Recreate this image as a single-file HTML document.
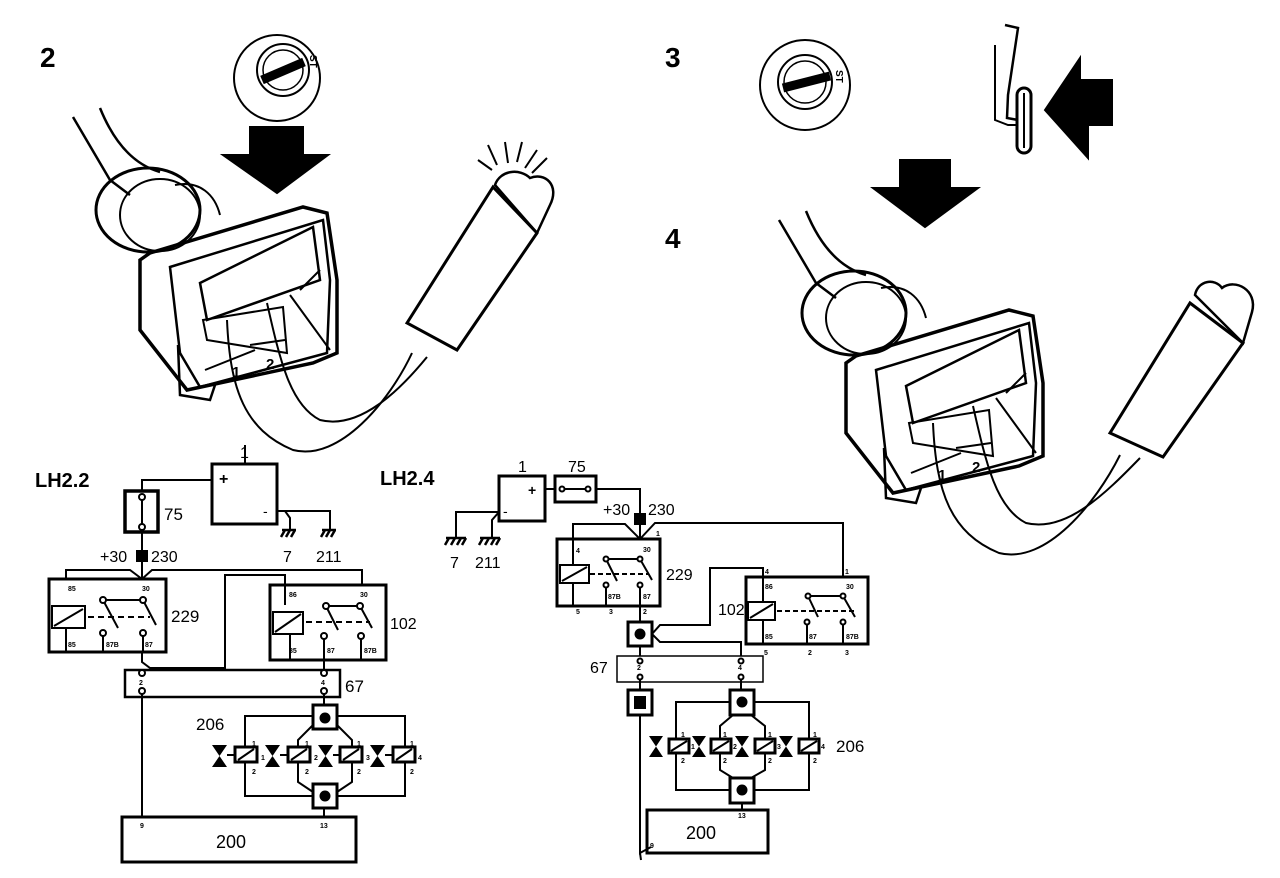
<!DOCTYPE html>
<html><head><style>
html,body{margin:0;padding:0;background:#fff}
svg{display:block}
text{font-family:"Liberation Sans",Arial,sans-serif;fill:#000}
.b{font-weight:bold}
</style></head><body>
<svg width="1280" height="878" viewBox="0 0 1280 878" xmlns="http://www.w3.org/2000/svg">
<defs>
<g id="conn" fill="none" stroke="#000">
<path d="M73 117 L110 180 L130 195" stroke-width="2.5"/>
<path d="M100 108 C115 145 135 165 160 172" stroke-width="2.5"/>
<ellipse cx="148" cy="210" rx="52" ry="42" stroke-width="3"/>
<ellipse cx="160" cy="215" rx="40" ry="36" stroke-width="2"/>
<path d="M175 185 C200 180 215 195 220 215" stroke-width="2"/>
<path d="M140 260 L150 253 L303 207 L327 213 L337 280 L337 353 L313 363 L187 390 L140 330 Z" stroke-width="3.5"/>
<path d="M170 267 L323 220 L330 280 L327 353 L200 387 L180 353 Z" stroke-width="2.5"/>
<path d="M200 283 L313 227 L320 280 L207 320 Z" stroke-width="2.5"/>
<path d="M203 320 L283 307 L287 353 L207 340 Z" stroke-width="2"/>
<path d="M290 295 L330 350 M300 290 L320 270" stroke-width="2"/>
<path d="M178 345 L180 395 L210 400 L215 385" stroke-width="2.5"/>
<path d="M205 370 L255 350 M250 345 L285 340" stroke-width="2"/>
<text x="232" y="377" class="b" font-size="15" stroke="none">1</text>
<text x="266" y="369" class="b" font-size="15" stroke="none">2</text>
</g>
</defs>

<use href="#conn"/>
<use href="#conn" transform="translate(706,103)"/>

<g fill="none" stroke="#000" stroke-width="2">
<!-- key 2 -->
<circle cx="277" cy="78" r="43"/>
<circle cx="283" cy="70" r="26"/>
<circle cx="283" cy="70" r="20" stroke-width="1.5"/>
<path d="M262 80 L304 62" stroke-width="9"/>
<text x="310" y="55" font-size="10" class="b" stroke="none" transform="rotate(90 310 55)">ST</text>
<!-- arrow down -->
<path d="M250 127 L303 127 L303 155 L328 155 L277 193 L223 155 L250 155 Z" fill="#000"/>
<!-- wires to probe (left) -->
<path d="M227 320 C230 390 245 430 293 450 C340 462 390 400 412 353" stroke-width="2"/>
<path d="M267 303 C280 360 290 405 320 420 C360 430 400 390 427 357" stroke-width="2"/>
<!-- probe left -->
<path d="M407 323 L493 187 L537 233 L457 350 Z" stroke-width="3"/>
<path d="M495 185 C500 170 520 168 530 178 C545 172 560 185 550 205 L537 233 Z" stroke-width="2.5"/>
<path d="M478 160 L492 170 M488 145 L497 165 M505 142 L508 163 M522 142 L517 162 M537 150 L525 168 M547 158 L532 173"/>

<!-- key 3 -->
<circle cx="805" cy="85" r="45"/>
<circle cx="805" cy="82" r="27"/>
<circle cx="805" cy="82" r="21" stroke-width="1.5"/>
<path d="M783 88 L830 76" stroke-width="9"/>
<text x="836" y="70" font-size="10" class="b" stroke="none" transform="rotate(90 836 70)">ST</text>
<!-- clip & pill -->
<path d="M1005 25 L1018 28 L1008 95 L1007 118 L1018 120" stroke-width="2.5"/>
<path d="M995 45 L995 120 L1008 125 L1018 125"/>
<rect x="1017" y="88" width="14" height="65" rx="7" stroke-width="3"/>
<path d="M1024 93 L1024 148"/>
<!-- left arrow -->
<path d="M1045 110 L1080 58 L1080 80 L1112 80 L1112 125 L1088 125 L1088 158 Z" fill="#000"/>
<!-- down arrow 4 -->
<path d="M900 160 L950 160 L950 188 L978 188 L925 227 L873 188 L900 188 Z" fill="#000"/>
<!-- wires to probe (right) -->
<path d="M933 423 C936 493 951 533 999 553 C1046 565 1096 503 1120 455" stroke-width="2"/>
<path d="M973 406 C986 463 996 508 1026 523 C1066 533 1106 493 1140 458" stroke-width="2"/>
<!-- probe right -->
<path d="M1110 433 L1190 303 L1243 343 L1163 457 Z" stroke-width="3"/>
<path d="M1195 295 C1198 280 1215 278 1222 288 C1235 278 1258 290 1252 312 L1243 343 Z" stroke-width="2.5"/>

<!-- ===== LH2.2 schematic ===== -->
<rect x="212" y="464" width="65" height="60" stroke-width="3"/>
<path d="M245 464 L245 445"/>
<path d="M142 491 L142 480 L212 480"/>
<rect x="125" y="491" width="33" height="41" stroke-width="3.5"/>
<path d="M142 497 L142 527"/>
<circle cx="142" cy="497" r="3" fill="#fff"/><circle cx="142" cy="527" r="3" fill="#fff"/>
<path d="M142 532 L142 580"/>
<rect x="137" y="551" width="10" height="10" fill="#000"/>
<path d="M277 511 L285 511 L290 518 L290 530 M285 511 L330 511 L330 530"/>
<path d="M282 530 L296 530 M285 530 L281 537 M290 530 L286 537 M295 530 L291 537" stroke-width="2.5"/>
<path d="M322 530 L336 530 M325 530 L321 537 M330 530 L326 537 M335 530 L331 537" stroke-width="2.5"/>
<rect x="49" y="579" width="117" height="73" stroke-width="3"/>
<rect x="270" y="585" width="116" height="75" stroke-width="3"/>
<path d="M66 579 L66 570 L130 570 L142 579 L152 570 L362 570 L362 585"/>
<path d="M142 652 L142 662 L150 668 L225 668 L225 575 L285 575 L285 605"/>
<rect x="52" y="606" width="33" height="22"/><path d="M54 626 L83 609"/>
<rect x="273" y="612" width="30" height="22"/><path d="M275 632 L301 614"/>
<path d="M88 617 L150 617 M306 622 L370 622" stroke-dasharray="6 4"/>
<path d="M103 600 L143 600 M326 606 L360 606"/>
<path d="M103 600 L118 628 M143 600 L156 625 M326 606 L338 630 M360 606 L372 628"/>
<circle cx="103" cy="600" r="3" fill="#fff"/><circle cx="143" cy="600" r="3" fill="#fff"/><circle cx="103" cy="633" r="3" fill="#fff"/><circle cx="143" cy="633" r="3" fill="#fff"/>
<circle cx="326" cy="606" r="3" fill="#fff"/><circle cx="360" cy="606" r="3" fill="#fff"/><circle cx="324" cy="636" r="3" fill="#fff"/><circle cx="361" cy="636" r="3" fill="#fff"/>
<path d="M66 628 L66 652 M103 636 L103 652 M143 636 L143 652 M290 634 L290 660 M324 639 L324 660 M361 639 L361 660"/>
<rect x="125" y="670" width="215" height="27" stroke-width="2.5"/>
<path d="M324 660 L324 670"/>
<circle cx="142" cy="673" r="3" fill="#fff"/><circle cx="142" cy="691" r="3" fill="#fff"/><circle cx="324" cy="673" r="3" fill="#fff"/><circle cx="324" cy="691" r="3" fill="#fff"/>
<path d="M142 694 L142 817 M324 694 L324 705"/>
<rect x="245" y="716" width="160" height="80"/>
<path d="M313 725 L298 740 L298 782 L313 792 M337 725 L352 740 L352 782 L337 792"/>
<rect x="313" y="705" width="24" height="24" stroke-width="3" fill="#fff"/>
<rect x="313" y="784" width="24" height="24" stroke-width="3" fill="#fff"/>
<circle cx="325" cy="718" r="4.5" fill="#000"/><circle cx="325" cy="796" r="4.5" fill="#000"/>
<path d="M324 808 L324 817"/>
<rect x="122" y="817" width="234" height="45" stroke-width="3"/>
<rect x="235" y="747" width="22" height="15" stroke-width="3" fill="#fff"/><path d="M238 760 L254 749"/>
<rect x="288" y="747" width="22" height="15" stroke-width="3" fill="#fff"/><path d="M291 760 L307 749"/>
<rect x="340" y="747" width="22" height="15" stroke-width="3" fill="#fff"/><path d="M343 760 L359 749"/>
<rect x="393" y="747" width="22" height="15" stroke-width="3" fill="#fff"/><path d="M396 760 L412 749"/>
<path d="M227 755 L235 755 M280 755 L288 755 M333 755 L340 755 M385 755 L393 755"/>
</g>
<g fill="#000">
<path d="M212 745 L227 745 L212 767 L227 767 Z"/>
<path d="M265 745 L280 745 L265 767 L280 767 Z"/>
<path d="M318 745 L333 745 L318 767 L333 767 Z"/>
<path d="M370 745 L385 745 L370 767 L385 767 Z"/>
</g>
<g stroke="none">
<text x="40" y="67" class="b" font-size="28">2</text>
<text x="665" y="67" class="b" font-size="28">3</text>
<text x="665" y="248" class="b" font-size="28">4</text>
<text x="35" y="487" class="b" font-size="20">LH2.2</text>
<text x="240" y="458" font-size="16">1</text>
<text x="219" y="484" class="b" font-size="16">+</text>
<text x="263" y="516" font-size="14">-</text>
<text x="164" y="520" font-size="17">75</text>
<text x="100" y="562" font-size="16">+30</text>
<text x="151" y="562" font-size="16">230</text>
<text x="283" y="562" font-size="16">7</text>
<text x="316" y="562" font-size="16">211</text>
<text x="171" y="622" font-size="17">229</text>
<text x="390" y="629" font-size="16">102</text>
<text x="345" y="692" font-size="17">67</text>
<text x="196" y="730" font-size="17">206</text>
<text x="216" y="848" font-size="18">200</text>
<g font-size="7" font-weight="bold">
<text x="68" y="591">85</text><text x="142" y="591">30</text><text x="68" y="647">85</text><text x="106" y="647">87B</text><text x="145" y="647">87</text>
<text x="289" y="597">86</text><text x="360" y="597">30</text><text x="289" y="653">85</text><text x="327" y="653">87</text><text x="364" y="653">87B</text>
<text x="139" y="685">2</text><text x="321" y="685">4</text>
<text x="140" y="828">9</text><text x="320" y="828">13</text>
<text x="252" y="746">1</text><text x="252" y="774">2</text><text x="261" y="760">1</text>
<text x="305" y="746">1</text><text x="305" y="774">2</text><text x="314" y="760">2</text>
<text x="357" y="746">1</text><text x="357" y="774">2</text><text x="366" y="760">3</text>
<text x="410" y="746">1</text><text x="410" y="774">2</text><text x="418" y="760">4</text>
</g>
</g>

<!-- ===== LH2.4 schematic ===== -->
<g fill="none" stroke="#000" stroke-width="2">
<rect x="499" y="476" width="46" height="45" stroke-width="3"/>
<path d="M545 489 L555 489"/>
<rect x="555" y="476" width="41" height="26" stroke-width="3"/>
<path d="M562 489 L588 489"/>
<circle cx="562" cy="489" r="2.5" fill="#fff"/><circle cx="588" cy="489" r="2.5" fill="#fff"/>
<path d="M596 489 L640 489 L640 539"/>
<rect x="635" y="514" width="10" height="10" fill="#000"/>
<path d="M499 512 L456 512 L456 538 M499 512 L492 520 L492 538"/>
<path d="M446 538 L466 538 M449 538 L445 545 M455 538 L451 545 M461 538 L457 545 M466 538 L462 545" stroke-width="2.5"/>
<path d="M480 538 L500 538 M483 538 L479 545 M489 538 L485 545 M495 538 L491 545 M500 538 L496 545" stroke-width="2.5"/>
<path d="M640 539 L655 523 L843 523 L843 577"/>
<rect x="557" y="539" width="103" height="67" stroke-width="3"/>
<path d="M573 539 L573 524 L625 524 L640 539"/>
<rect x="560" y="565" width="29" height="18"/><path d="M562 581 L587 567"/>
<path d="M573 583 L573 606 M573 539 L573 565"/>
<path d="M590 574 L648 574" stroke-dasharray="5 3"/>
<path d="M606 559 L640 559 M606 559 L617 581 M640 559 L652 580"/>
<circle cx="606" cy="559" r="2.5" fill="#fff"/><circle cx="640" cy="559" r="2.5" fill="#fff"/><circle cx="606" cy="585" r="2.5" fill="#fff"/><circle cx="640" cy="585" r="2.5" fill="#fff"/>
<path d="M606 588 L606 606 M640 588 L640 622"/>
<path d="M652 634 L660 625 L710 625 L710 568 L763 568 L763 577"/>
<path d="M652 634 L660 642 L741 642 L741 656"/>
<rect x="628" y="622" width="24" height="24" stroke-width="3" fill="#fff"/>
<circle cx="640" cy="634" r="4.5" fill="#000"/>
<rect x="746" y="577" width="122" height="67" stroke-width="3"/>
<rect x="748" y="602" width="27" height="18"/><path d="M750 618 L773 604"/>
<path d="M763 577 L763 602 M763 620 L763 644"/>
<path d="M777 611 L855 611" stroke-dasharray="5 3"/>
<path d="M808 596 L843 596 M808 596 L818 617 M843 596 L855 617"/>
<circle cx="808" cy="596" r="2.5" fill="#fff"/><circle cx="843" cy="596" r="2.5" fill="#fff"/><circle cx="807" cy="622" r="2.5" fill="#fff"/><circle cx="843" cy="622" r="2.5" fill="#fff"/>
<path d="M807 625 L807 644 M843 625 L843 644"/>
<rect x="617" y="656" width="146" height="26" stroke-width="1.5"/>
<path d="M640 646 L640 656"/>
<circle cx="640" cy="661" r="2.5" fill="#fff"/><circle cx="640" cy="677" r="2.5" fill="#fff"/><circle cx="741" cy="661" r="2.5" fill="#fff"/><circle cx="741" cy="677" r="2.5" fill="#fff"/>
<path d="M640 680 L640 690 M741 680 L741 690"/>
<rect x="628" y="690" width="24" height="25" stroke-width="3"/><rect x="635" y="697" width="10" height="11" fill="#000"/>
<path d="M640 715 L640 853 L651 847 M640 853 L641 860"/>
<rect x="676" y="702" width="133" height="88"/>
<path d="M733 715 L720 726 L720 770 L733 778 M751 715 L765 726 L765 770 L751 778"/>
<rect x="730" y="690" width="24" height="25" stroke-width="3" fill="#fff"/><circle cx="742" cy="702" r="4.5" fill="#000"/>
<rect x="730" y="778" width="24" height="25" stroke-width="3" fill="#fff"/><circle cx="742" cy="790" r="4.5" fill="#000"/>
<path d="M742 803 L742 810"/>
<rect x="647" y="810" width="121" height="43" stroke-width="3"/>
<rect x="669" y="739" width="20" height="14" stroke-width="3" fill="#fff"/><path d="M671 751 L687 741"/>
<rect x="711" y="739" width="20" height="14" stroke-width="3" fill="#fff"/><path d="M713 751 L729 741"/>
<rect x="755" y="739" width="20" height="14" stroke-width="3" fill="#fff"/><path d="M757 751 L773 741"/>
<rect x="799" y="739" width="20" height="14" stroke-width="3" fill="#fff"/><path d="M801 751 L817 741"/>
</g>
<g fill="#000">
<path d="M649 736 L663 736 L649 757 L663 757 Z"/>
<path d="M692 736 L706 736 L692 757 L706 757 Z"/>
<path d="M735 736 L749 736 L735 757 L749 757 Z"/>
<path d="M779 736 L793 736 L779 757 L793 757 Z"/>
</g>
<g stroke="none">
<text x="380" y="485" class="b" font-size="20">LH2.4</text>
<text x="518" y="472" font-size="16">1</text>
<text x="528" y="495" class="b" font-size="14">+</text>
<text x="503" y="516" font-size="14">-</text>
<text x="568" y="472" font-size="16">75</text>
<text x="603" y="515" font-size="16">+30</text>
<text x="648" y="515" font-size="16">230</text>
<text x="450" y="568" font-size="16">7</text>
<text x="475" y="568" font-size="16">211</text>
<text x="666" y="580" font-size="16">229</text>
<text x="718" y="615" font-size="16">102</text>
<text x="590" y="673" font-size="16">67</text>
<text x="836" y="752" font-size="17">206</text>
<text x="686" y="839" font-size="18">200</text>
<g font-size="7" font-weight="bold">
<text x="576" y="553">4</text><text x="643" y="552">30</text><text x="656" y="536">1</text><text x="576" y="614">5</text><text x="608" y="599">87B</text><text x="643" y="599">87</text>
<text x="609" y="614">3</text><text x="643" y="614">2</text>
<text x="765" y="574">4</text><text x="845" y="574">1</text>
<text x="765" y="589">86</text><text x="846" y="589">30</text><text x="765" y="639">85</text><text x="809" y="639">87</text><text x="846" y="639">87B</text>
<text x="764" y="655">5</text><text x="808" y="655">2</text><text x="845" y="655">3</text>
<text x="637" y="670">2</text><text x="738" y="670">4</text>
<text x="650" y="848">9</text><text x="738" y="818">13</text>
<text x="681" y="737">1</text><text x="681" y="763">2</text><text x="691" y="749">1</text>
<text x="723" y="737">1</text><text x="723" y="763">2</text><text x="733" y="749">2</text>
<text x="768" y="737">1</text><text x="768" y="763">2</text><text x="777" y="749">3</text>
<text x="813" y="737">1</text><text x="813" y="763">2</text><text x="821" y="749">4</text>
</g>
</g>
</svg>
</body></html>
